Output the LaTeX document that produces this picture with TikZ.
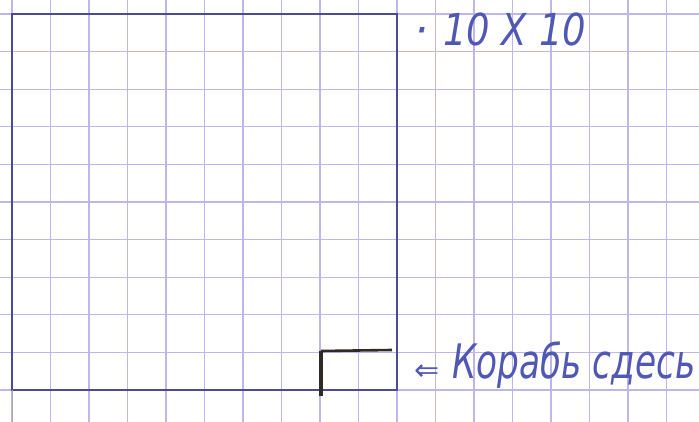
\documentclass[tikz,border=0pt]{standalone}
\usepackage{fontspec}
\newfontfamily\handfont{DejaVu Sans}
\newfontfamily\symfont{DejaVu Sans}
\definecolor{gridc}{HTML}{BDB6EC}
\definecolor{inkc}{HTML}{4B4A92}
\definecolor{penc}{HTML}{5158B4}
\definecolor{pencil}{HTML}{2E2A28}
\tikzset{
  gridline/.style={draw=gridc, line width=1.1pt},
  squareline/.style={draw=inkc, line width=2pt},
  markline/.style={draw=pencil, line width=2.6pt},
  handtext/.style={text=penc, inner sep=0pt, anchor=base west, font=\handfont\itshape\fontsize{44}{44}\selectfont}
}
\begin{document}
\begin{tikzpicture}[x=1pt,y=-1pt]
\useasboundingbox (0,0) rectangle (699,422);
\clip (0,0) rectangle (699,422);
\fill[white] (0,0) rectangle (699,422);
% grid
\foreach \k in {0,...,17} { \draw[gridline] ({12+38.5*\k},0) -- ({12+38.5*\k},422); }
\foreach \k in {0,...,10} { \draw[gridline] (0,{14+37.6*\k}) -- (699,{14+37.6*\k}); }
% square 10x10
\coordinate (tl) at (12,14);
\coordinate (br) at (397,390);
\draw[squareline] (tl) rectangle (br);
\draw[draw=gray!70, line width=1pt] (12,390) -- (12,422);
% ship mark
\coordinate (m1) at (321,396);
\coordinate (m2) at (321,351);
\coordinate (m3) at (392,350);
\draw[markline, line width=4pt] (m1) -- (m2);
\draw[markline] (m2) -- (m3);
% labels
\node[handtext] (dot) at (414,46) {·};
\node[handtext] (size) at (443,46) {\scalebox{0.84}[1]{10 X 10}};
\node[handtext, font=\symfont\fontsize{30}{30}\selectfont] (arrow) at (414,380) {⇐};
\node[handtext] (ship) at (452,378) {\scalebox{0.78}[1.08]{Корабь сдесь}};
\end{tikzpicture}
\end{document}
